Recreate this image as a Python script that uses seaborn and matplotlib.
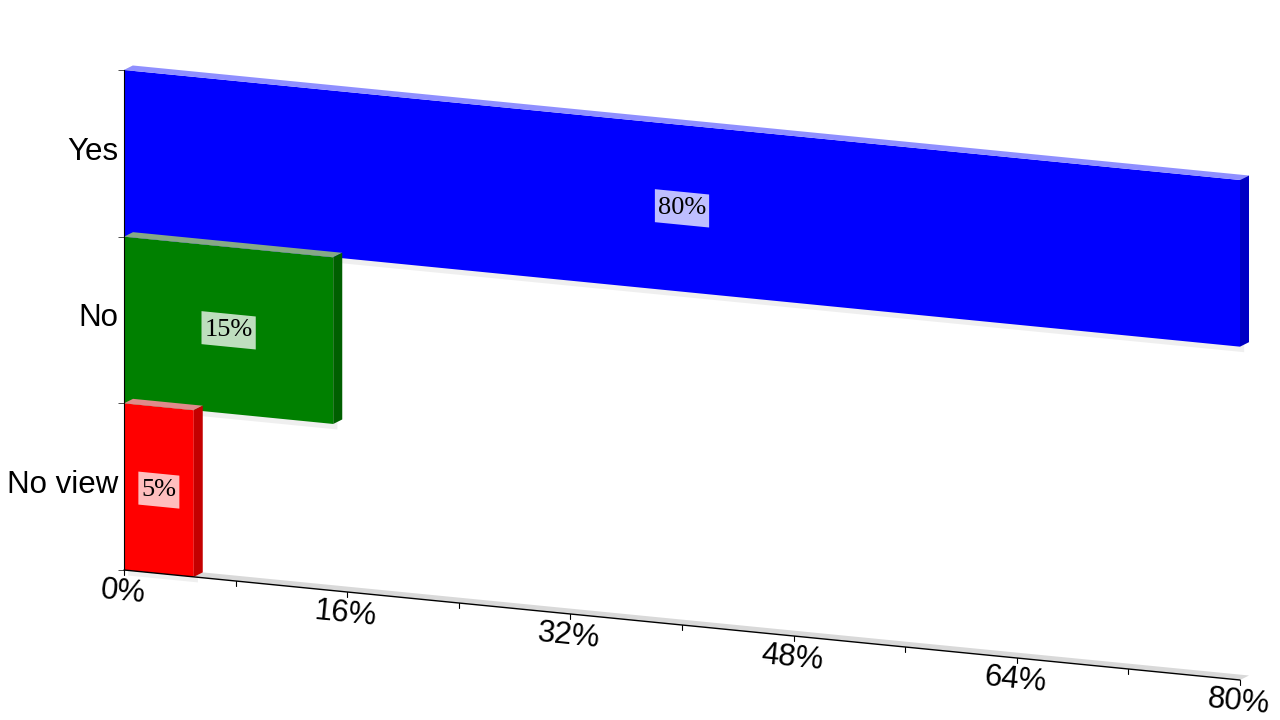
import numpy as np
import matplotlib
matplotlib.use('Agg')
import matplotlib.pyplot as plt
import matplotlib.transforms as mtransforms
import matplotlib.patheffects as pe
from matplotlib.patches import Polygon
import seaborn as sns

# data
categories = ['Yes', 'No', 'No view']
shares = [80, 15, 5]
value_labels = ['80%', '15%', '5%']
bar_colors = ['#0000ff', '#008000', '#ff0000']
side_colors = ['#0000c4', '#005f00', '#c40000']
top_colors = ['#8f8fff', '#86a886', '#e08a8a']
tick_values = [0, 8, 16, 24, 32, 40, 48, 56, 64, 72, 80]
tick_labels = ['0%', '', '16%', '', '32%', '', '48%', '', '64%', '', '80%']

sns.set_style('white')
plt.rcParams['font.family'] = ['Liberation Sans', 'DejaVu Sans']
plt.rcParams['text.color'] = 'black'
plt.rcParams['ytick.color'] = 'black'

fig = plt.figure(figsize=(12.8, 7.2), dpi=100)
ax = fig.add_axes([124 / 1280, 150 / 720, 1116 / 1280, 500 / 720])

sns.barplot(x=shares, y=categories, hue=categories, palette=bar_colors, orient='h',
            width=1.0, saturation=1, legend=False, linewidth=0, ax=ax)
ax.set_xlim(0, 80)
ax.set_ylim(len(categories) - 0.5, -0.5)
xmax = ax.get_xlim()[1]
ybase = len(categories) - 0.5
ytop = -0.5

# fake 3D: skew so the value axis drops towards the right
skew = mtransforms.Affine2D(np.array([[1, 0, 0], [-0.22, 1, 0], [0, 0, 1]], dtype=float))
sk = ax.transScale + ax.transLimits + skew + ax.transAxes

# depth of the bars (9px right, 4px up) expressed in data units
inv = sk.inverted()
p0 = sk.transform((0, 0))
dx, dy = inv.transform(p0 + np.array([9.0, 4.5])) - inv.transform(p0)
px_per_x = 1116 / 80
px_per_y = 500 / len(categories)

pts = sk.transform([(0, ybase), (xmax, ybase)])
angle = np.degrees(np.arctan2(pts[1, 1] - pts[0, 1], pts[1, 0] - pts[0, 0]))

# floor and back wall
ax.add_patch(Polygon([(0, ybase), (xmax, ybase), (xmax + dx, ybase + dy), (dx, ybase + dy)],
                     transform=sk, fc='#d9d9d9', ec='none', zorder=0.5, clip_on=False))
ax.add_patch(Polygon([(0, ybase), (0, ytop), (dx, ytop + dy), (dx, ybase + dy)],
                     transform=sk, fc='#d0d0d0', ec='none', zorder=0.5, clip_on=False))

for p in list(ax.patches):
    if not hasattr(p, 'get_width'):
        continue
    x0, y0, w, h = p.get_x(), p.get_y(), p.get_width(), p.get_height()
    i = int(round(y0 + h / 2))
    yt, yb = min(y0, y0 + h), max(y0, y0 + h)
    z = 2 + i * 0.1
    p.set_transform(sk)
    p.set_clip_on(False)
    p.set_zorder(z)
    p.set_path_effects([pe.SimplePatchShadow(offset=(3, -4), shadow_rgbFace='gray', alpha=0.12),
                        pe.Normal()])
    ax.add_patch(Polygon([(x0, yt), (x0 + w, yt), (x0 + w + dx, yt + dy), (x0 + dx, yt + dy)],
                         transform=sk, fc=top_colors[i], ec='none', zorder=z, clip_on=False))
    ax.add_patch(Polygon([(x0 + w, yt), (x0 + w, yb), (x0 + w + dx, yb + dy), (x0 + w + dx, yt + dy)],
                         transform=sk, fc=side_colors[i], ec='none', zorder=z, clip_on=False))

# value labels in the middle of each bar, on a skewed light box
renderer = fig.canvas.get_renderer()
for i, (v, lab) in enumerate(zip(shares, value_labels)):
    txt = ax.text(v / 2, i, lab, transform=sk, ha='center', va='center', fontsize=19,
                  family=['Liberation Serif', 'DejaVu Serif'], zorder=7)
    bb = txt.get_window_extent(renderer)
    hw = (bb.width / 2 + 3) / px_per_x
    hh = (bb.height / 2 + 5.5) / px_per_y
    ax.add_patch(Polygon([(v / 2 - hw, i - hh), (v / 2 + hw, i - hh), (v / 2 + hw, i + hh), (v / 2 - hw, i + hh)],
                         transform=sk, fc=(1, 1, 1, 0.75), ec='none', zorder=6, clip_on=False))

# skewed x axis
ax.set_xticks([])
ax.plot([0, xmax], [ybase, ybase], transform=sk, color='black', lw=1, clip_on=False, zorder=3)
tl = 5 / px_per_y
lab_trans = mtransforms.offset_copy(sk, fig=fig, y=-7, units='dots')
for t, lab in zip(tick_values, tick_labels):
    ax.plot([t, t], [ybase, ybase + tl], transform=sk, color='black', lw=0.8, clip_on=False, zorder=3)
    if lab:
        ax.text(t, ybase, lab, transform=lab_trans, ha='center', va='top', rotation=angle,
                rotation_mode='anchor', fontsize=22.5)

# y axis
for s in ['top', 'right', 'bottom']:
    ax.spines[s].set_visible(False)
ax.spines['left'].set_color('black')
ax.spines['left'].set_zorder(5)
ax.set_yticks(range(len(categories)), categories)
ax.set_yticks(np.arange(-0.5, len(categories)), minor=True)
ax.tick_params(axis='y', which='major', left=False, length=0, pad=4, labelsize=22.5)
ax.tick_params(axis='y', which='minor', left=True, length=4, color='#333333', direction='out')
shift_up = mtransforms.ScaledTranslation(0, 5 / 100, fig.dpi_scale_trans)
for lab in ax.get_yticklabels():
    lab.set_transform(lab.get_transform() + shift_up)
ax.set_xlabel('')
ax.set_ylabel('')

fig.savefig('out.png', dpi=100)
